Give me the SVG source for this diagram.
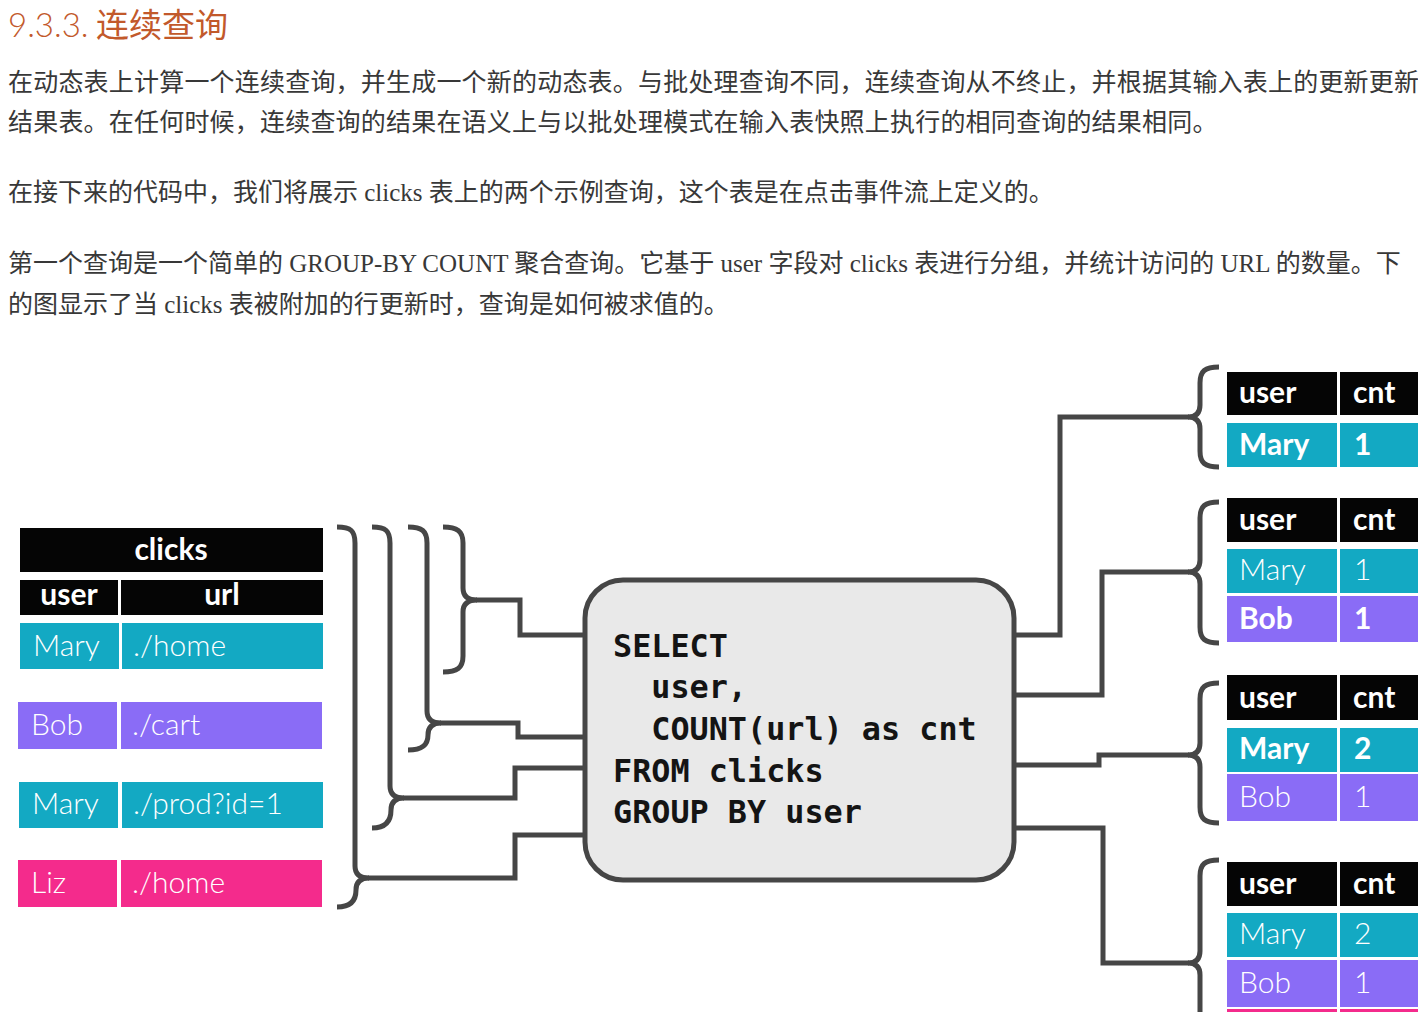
<svg xmlns="http://www.w3.org/2000/svg" width="1418" height="1012" viewBox="0 0 1418 1012">
<style>
  .title { font-family: "Noto Sans CJK SC", sans-serif; font-size: 33px; fill: #c2592b; }
  .num { font-family: "Lato", "Noto Sans CJK SC", sans-serif; font-weight: 300; }
  .p1 { font-family: "Noto Sans CJK SC", sans-serif; font-size: 25px; fill: #383838; letter-spacing: 0.2px; }
  .p2 { font-family: "Liberation Serif", "Noto Sans CJK SC", serif; font-size: 25px; fill: #383838; }
  .hd { font-family: "Lato", "Open Sans", sans-serif; font-weight: 700; font-size: 30px; fill: #ffffff; }
  .thin { font-family: "Lato", "Open Sans", sans-serif; font-weight: 300; font-size: 30px; fill: #ffffff; }
  .bold { font-family: "Lato", "Open Sans", sans-serif; font-weight: 700; font-size: 30px; fill: #ffffff; }
  .blk { fill: #050505; }
  .teal { fill: #13a9c3; }
  .purp { fill: #8a6cf6; }
  .pink { fill: #f42b8c; }
  .wire { fill: none; stroke: #464646; stroke-width: 5; stroke-linejoin: miter; stroke-linecap: butt; }
  .brace { fill: none; stroke: #464646; stroke-width: 5; stroke-linecap: butt; }
  .box { fill: #e9e9e9; stroke: #464646; stroke-width: 5; }
  .sql { font-family: "DejaVu Sans Mono", "Liberation Mono", monospace; font-weight: bold; font-size: 31.8px; fill: #141414; white-space: pre; }
</style>

<g id="text-block">
  <text class="title" x="8" y="37"><tspan class="num">9.3.3.</tspan> 连续查询</text>
  <text class="p1" x="8" y="91">在动态表上计算一个连续查询，并生成一个新的动态表。与批处理查询不同，连续查询从不终止，并根据其输入表上的更新更新</text>
  <text class="p1" x="8" y="131">结果表。在任何时候，连续查询的结果在语义上与以批处理模式在输入表快照上执行的相同查询的结果相同。</text>
  <text class="p2" x="8" y="201">在接下来的代码中，我们将展示 clicks 表上的两个示例查询，这个表是在点击事件流上定义的。</text>
  <text class="p2" x="8" y="272">第一个查询是一个简单的 GROUP-BY COUNT 聚合查询。它基于 user 字段对 clicks 表进行分组，并统计访问的 URL 的数量。下</text>
  <text class="p2" x="8" y="313">的图显示了当 clicks 表被附加的行更新时，查询是如何被求值的。</text>
</g>

<g id="clicks-table">
  <rect class="blk" x="20" y="528" width="303" height="44"/>
  <text class="hd" x="171" y="560" text-anchor="middle">clicks</text>
  <rect class="blk" x="20" y="580" width="98" height="35"/>
  <rect class="blk" x="121" y="580" width="202" height="35"/>
  <text class="hd" x="69" y="605" text-anchor="middle">user</text>
  <text class="hd" x="222" y="605" text-anchor="middle">url</text>

  <rect class="teal" x="20" y="623" width="99" height="46"/>
  <rect class="teal" x="122" y="623" width="201" height="46"/>
  <text class="thin" x="33" y="656">Mary</text>
  <text class="thin" x="133" y="656">./home</text>

  <rect class="purp" x="18" y="702" width="99" height="47"/>
  <rect class="purp" x="121" y="702" width="201" height="47"/>
  <text class="thin" x="31" y="735">Bob</text>
  <text class="thin" x="132" y="735">./cart</text>

  <rect class="teal" x="19" y="782" width="99" height="46"/>
  <rect class="teal" x="122" y="782" width="201" height="46"/>
  <text class="thin" x="32" y="814">Mary</text>
  <text class="thin" x="133" y="814">./prod?id=1</text>

  <rect class="pink" x="18" y="860" width="99" height="47"/>
  <rect class="pink" x="121" y="860" width="201" height="47"/>
  <text class="thin" x="31" y="893">Liz</text>
  <text class="thin" x="132" y="893">./home</text>
</g>

<g id="query-box">
  <rect class="box" x="585" y="580" width="429" height="300" rx="38" ry="38"/>
  <text class="sql" x="613" y="657">SELECT</text>
  <text class="sql" x="613" y="698">  user,</text>
  <text class="sql" x="613" y="740">  COUNT(url) as cnt</text>
  <text class="sql" x="613" y="782">FROM clicks</text>
  <text class="sql" x="613" y="823">GROUP BY user</text>
</g>

<g id="result-1">
  <rect class="blk" x="1227" y="372" width="110" height="43"/>
  <rect class="blk" x="1340" y="372" width="90" height="43"/>
  <text class="hd" x="1239" y="403">user</text>
  <text class="hd" x="1353" y="403">cnt</text>
  <rect class="teal" x="1227" y="423" width="110" height="44"/>
  <rect class="teal" x="1340" y="423" width="90" height="44"/>
  <text class="bold" x="1239" y="455">Mary</text>
  <text class="bold" x="1354" y="455">1</text>
</g>

<g id="result-2">
  <rect class="blk" x="1227" y="498" width="110" height="44"/>
  <rect class="blk" x="1340" y="498" width="90" height="44"/>
  <text class="hd" x="1239" y="530">user</text>
  <text class="hd" x="1353" y="530">cnt</text>
  <rect class="teal" x="1227" y="549" width="110" height="44"/>
  <rect class="teal" x="1340" y="549" width="90" height="44"/>
  <text class="thin" x="1239" y="580">Mary</text>
  <text class="thin" x="1354" y="580">1</text>
  <rect class="purp" x="1227" y="596" width="110" height="46"/>
  <rect class="purp" x="1340" y="596" width="90" height="46"/>
  <text class="bold" x="1239" y="629">Bob</text>
  <text class="bold" x="1354" y="629">1</text>
</g>

<g id="result-3">
  <rect class="blk" x="1227" y="675" width="110" height="45"/>
  <rect class="blk" x="1340" y="675" width="90" height="45"/>
  <text class="hd" x="1239" y="708">user</text>
  <text class="hd" x="1353" y="708">cnt</text>
  <rect class="teal" x="1227" y="728" width="110" height="44"/>
  <rect class="teal" x="1340" y="728" width="90" height="44"/>
  <text class="bold" x="1239" y="759">Mary</text>
  <text class="bold" x="1354" y="759">2</text>
  <rect class="purp" x="1227" y="774" width="110" height="47"/>
  <rect class="purp" x="1340" y="774" width="90" height="47"/>
  <text class="thin" x="1239" y="807">Bob</text>
  <text class="thin" x="1354" y="807">1</text>
</g>

<g id="result-4">
  <rect class="blk" x="1227" y="862" width="110" height="44"/>
  <rect class="blk" x="1340" y="862" width="90" height="44"/>
  <text class="hd" x="1239" y="894">user</text>
  <text class="hd" x="1353" y="894">cnt</text>
  <rect class="teal" x="1227" y="913" width="110" height="44"/>
  <rect class="teal" x="1340" y="913" width="90" height="44"/>
  <text class="thin" x="1239" y="944">Mary</text>
  <text class="thin" x="1354" y="944">2</text>
  <rect class="purp" x="1227" y="960" width="110" height="47"/>
  <rect class="purp" x="1340" y="960" width="90" height="47"/>
  <text class="thin" x="1239" y="993">Bob</text>
  <text class="thin" x="1354" y="993">1</text>
  <rect class="pink" x="1227" y="1009" width="110" height="40"/>
  <rect class="pink" x="1340" y="1009" width="90" height="40"/>
</g>

<g id="connectors">
  <path class="brace" d="M443 527 C457 527 463 531 463 543 L463 588 C463 596 468 600 477 600 C468 600 463 604 463 612 L463 656 C463 668 457 672 443 672"/>
  <path class="brace" d="M408 527 C422 527 427 531 427 543 L427 711 C427 719 432 723 441 723 C432 723 428 727 428 735 C428 745 422 750 408 750"/>
  <path class="brace" d="M372 527 C386 527 390 531 390 543 L390 786 C390 794 395 798 404 798 C395 798 391 802 391 810 C391 822 385 828 372 828"/>
  <path class="brace" d="M337 527 C351 527 355 531 355 543 L355 866 C355 874 360 878 369 878 C360 878 356 882 356 890 C356 901 350 907 337 907"/>
  <path class="wire" d="M476 600 H520 V635 H587"/>
  <path class="wire" d="M440 723 H518 V737 H587"/>
  <path class="wire" d="M403 798 H515 V768 H587"/>
  <path class="wire" d="M368 878 H515 V835 H587"/>
  <path class="wire" d="M1013 635 H1060 V417 H1189"/>
  <path class="wire" d="M1013 695 H1102 V572 H1189"/>
  <path class="wire" d="M1013 765 H1099 V755 H1189"/>
  <path class="wire" d="M1013 828 H1103 V963 H1189"/>
  <path class="brace" d="M1219 367 C1205 367 1200 371 1200 383 L1200 405 C1200 413 1196 417 1188 417 C1196 417 1200 421 1200 429 L1200 451 C1200 463 1205 467 1219 467"/>
  <path class="brace" d="M1219 502 C1205 502 1200 506 1200 518 L1200 560 C1200 568 1196 572 1188 572 C1196 572 1200 576 1200 584 L1200 627 C1200 639 1205 643 1219 643"/>
  <path class="brace" d="M1219 683 C1205 683 1200 687 1200 699 L1200 743 C1200 751 1196 755 1188 755 C1196 755 1200 759 1200 767 L1200 807 C1200 819 1205 823 1219 823"/>
  <path class="brace" d="M1219 860 C1205 860 1200 864 1200 876 L1200 951 C1200 959 1196 963 1188 963 C1196 963 1200 967 1200 975 L1200 1050 C1200 1062 1205 1066 1219 1066"/>
</g>
</svg>
